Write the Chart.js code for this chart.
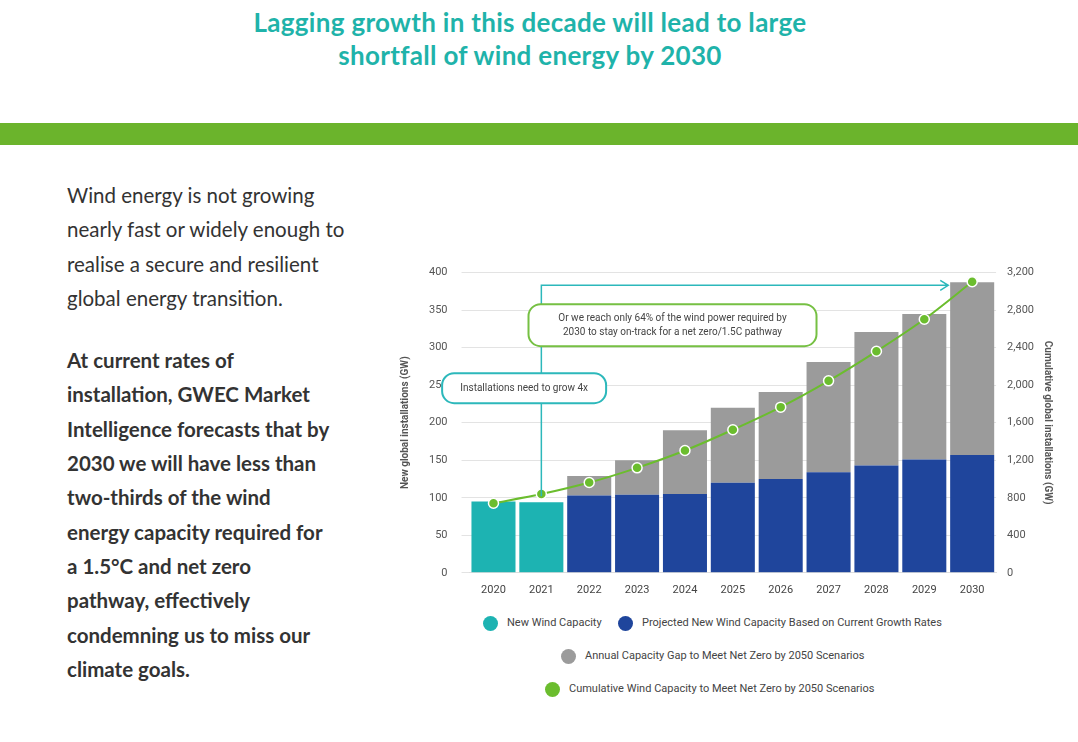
<!DOCTYPE html>
<html><head><meta charset="utf-8">
<script src="https://cdn.jsdelivr.net/npm/chart.js@4"></script>
<style>
body{margin:0;width:1078px;height:742px;background:#fff;font-family:Lato,"Open Sans",sans-serif;position:relative;overflow:hidden}
#title{position:absolute;top:6px;left:0;width:1060px;text-align:center;color:#1fb3aa;font-weight:bold;font-size:26px;line-height:33px;letter-spacing:0.3px}
#band{position:absolute;top:123px;left:0;width:1078px;height:22px;background:#6bb42c}
#txt{position:absolute;left:67px;top:178px;width:330px;color:#333;font-size:20.5px;line-height:34.3px;white-space:nowrap}
#txt p{margin:0 0 28px 0}
#wrap{position:absolute;left:395px;top:252px;width:662px;height:348px}
#leg{position:absolute;left:483px;top:611px;font-family:Roboto,sans-serif;font-size:11px;color:#444}
.li{position:absolute;white-space:nowrap}
.dot{display:inline-block;width:15px;height:15px;border-radius:50%;vertical-align:middle;margin-right:9px}
</style></head><body>
<div id="title">Lagging growth in this decade will lead to large<br>shortfall of wind energy by 2030</div>
<div id="band"></div>
<div id="txt"><p>Wind energy is not growing<br>nearly fast or widely enough to<br>realise a secure and resilient<br>global energy transition.</p>
<p style="font-weight:bold">At current rates of<br>installation, GWEC Market<br>Intelligence forecasts that by<br>2030 we will have less than<br>two-thirds of the wind<br>energy capacity required for<br>a 1.5°C and net zero<br>pathway, effectively<br>condemning us to miss our<br>climate goals.</p></div>
<div id="wrap"><canvas id="c"></canvas></div>
<div id="leg">
<div class="li" style="left:0;top:5px"><span class="dot" style="background:#1db3b2"></span>New Wind Capacity</div>
<div class="li" style="left:135px;top:5px"><span class="dot" style="background:#1f459c"></span>Projected New Wind Capacity Based on Current Growth Rates</div>
<div class="li" style="left:78px;top:38px"><span class="dot" style="background:#9b9b9b"></span>Annual Capacity Gap to Meet Net Zero by 2050 Scenarios</div>
<div class="li" style="left:62px;top:71px"><span class="dot" style="background:#6bbd2e"></span>Cumulative Wind Capacity to Meet Net Zero by 2050 Scenarios</div>
</div>
<script>
const years = ["2020","2021","2022","2023","2024","2025","2026","2027","2028","2029","2030"];
const newCapacity = [95, 94, null, null, null, null, null, null, null, null, null];
const projected = [null, null, 103, 104, 105, 120, 125, 134, 143, 151, 157];
const gap = [null, null, 26, 46, 85, 100, 116, 147, 178, 194, 230];
const cumulative = [741, 839, 962, 1119, 1304, 1525, 1766, 2046, 2361, 2703, 3102];

const notes = {
  id: "notes",
  afterDatasetsDraw(chart) {
    const { ctx, scales: { x, y } } = chart;
    ctx.save();
    // arrow from 2021 up and across
    const ax = x.getPixelForValue(1);
    const top = y.getPixelForValue(383);
    const endX = x.getPixelForValue(9.5);
    ctx.strokeStyle = "#2cb8bb"; ctx.lineWidth = 1.5;
    ctx.beginPath();
    ctx.moveTo(ax, y.getPixelForValue(102)); ctx.lineTo(ax, top); ctx.lineTo(endX, top);
    ctx.moveTo(endX - 8, top - 5); ctx.lineTo(endX, top); ctx.lineTo(endX - 8, top + 5);
    ctx.stroke();
    function box(cx, cy, w, h, color, lines) {
      ctx.fillStyle = "#fff"; ctx.strokeStyle = color; ctx.lineWidth = 2;
      ctx.beginPath(); ctx.roundRect(cx - w / 2, cy - h / 2, w, h, 12); ctx.fill(); ctx.stroke();
      ctx.fillStyle = "#444"; ctx.font = "10px Roboto"; ctx.textAlign = "center"; ctx.textBaseline = "middle";
      lines.forEach((t, i) => ctx.fillText(t, cx, cy + (i - (lines.length - 1) / 2) * 14));
    }
    box(x.getPixelForValue(0.64), y.getPixelForValue(246), 164, 30, "#2cb8bb", ["Installations need to grow 4x"]);
    box(x.getPixelForValue(3.74), y.getPixelForValue(330), 288, 42, "#76c043",
      ["Or we reach only 64% of the wind power required by", "2030 to stay on-track for a net zero/1.5C pathway"]);
    ctx.restore();
  }
};

new Chart(document.getElementById("c"), {
  data: {
    labels: years,
    datasets: [
      { type: "line", label: "Cumulative", data: cumulative, yAxisID: "y2", borderColor: "#6bbd2e",
        borderWidth: 2, pointBackgroundColor: "#6bbd2e", pointBorderColor: "#fff", pointBorderWidth: 1.5,
        pointRadius: 5, tension: 0.3, order: 0 },
      { type: "bar", label: "New", data: newCapacity, backgroundColor: "#1db3b2", stack: "s", order: 1 },
      { type: "bar", label: "Projected", data: projected, backgroundColor: "#1f459c", stack: "s", order: 1 },
      { type: "bar", label: "Gap", data: gap, backgroundColor: "#9b9b9b", stack: "s", order: 1 }
    ]
  },
  options: {
    responsive: true, maintainAspectRatio: false, animation: false,
    layout: { padding: { left: 0, right: 0 } },
    datasets: { bar: { categoryPercentage: 1, barPercentage: 0.92 } },
    plugins: { legend: { display: false }, tooltip: { enabled: false } },
    scales: {
      x: { stacked: true, grid: { display: false }, border: { color: "#ddd" },
        ticks: { color: "#444", font: { family: "Roboto", size: 11 } } },
      y: { stacked: true, min: 0, max: 400, position: "left",
        ticks: { stepSize: 50, color: "#555", font: { family: "Roboto", size: 11 }, padding: 14 },
        grid: { color: "#e3e3e3" }, border: { display: false },
        title: { display: true, text: "New global installations (GW)", color: "#555", font: { family: "Roboto", size: 10, weight: "bold" } } },
      y2: { min: 0, max: 3200, position: "right",
        ticks: { stepSize: 400, color: "#555", font: { family: "Roboto", size: 11 } },
        grid: { display: false }, border: { display: false },
        title: { display: true, text: "Cumulative global installations (GW)", color: "#555", font: { family: "Roboto", size: 10, weight: "bold" } } }
    }
  },
  plugins: [notes]
});
</script>
</body></html>
